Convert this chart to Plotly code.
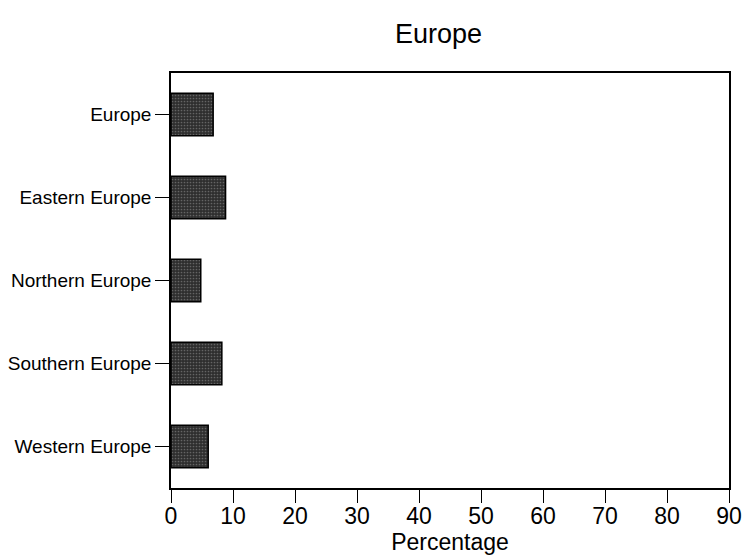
import plotly.graph_objects as go

categories = ["Europe", "Eastern Europe", "Northern Europe", "Southern Europe", "Western Europe"]
values = [6.8, 8.8, 4.8, 8.2, 6.0]
x_ticks = [0, 10, 20, 30, 40, 50, 60, 70, 80, 90]

fig = go.Figure(go.Bar(
    x=values, y=categories, orientation="h", width=0.51,
    marker=dict(color="#2e2e2e", line=dict(color="black", width=1.5),
                pattern=dict(shape=".", fgcolor="#9a9a9a", bgcolor="#2e2e2e", size=3, solidity=0.25)),
))

fig.update_layout(
    width=744, height=557,
    margin=dict(l=171, r=15, t=73, b=69, pad=0),
    paper_bgcolor="white", plot_bgcolor="white",
    font=dict(family="Liberation Sans, Arial, sans-serif", color="black"),
    showlegend=False,
    annotations=[dict(text="Europe", x=(438 - 171) / (729 - 171), xref="paper", y=1.0, yref="paper",
                      yanchor="bottom", yshift=22, showarrow=False, font=dict(size=27))],
)

fig.update_xaxes(
    range=[0, 90], tickvals=x_ticks, ticktext=[str(v) for v in x_ticks],
    showgrid=False, zeroline=False, showline=True, linecolor="black", linewidth=1.5,
    mirror=True, ticks="outside", ticklen=13, tickwidth=1.2, tickcolor="black",
    ticklabelstandoff=-6,
    tickfont=dict(size=23), title=dict(text="Percentage", font=dict(size=23), standoff=0),
    automargin=False,
)
fig.update_yaxes(
    categoryorder="array", categoryarray=categories[::-1], range=[-0.5, 4.5],
    showgrid=False, zeroline=False, showline=True, linecolor="black", linewidth=1.5,
    mirror=True, ticks="outside", ticklen=14, tickwidth=1.2, tickcolor="black",
    tickfont=dict(size=19), automargin=False,
)

fig.write_html("out.html", config={"displayModeBar": False},
               post_script="document.body.style.margin='0';document.body.style.overflow='hidden';")
